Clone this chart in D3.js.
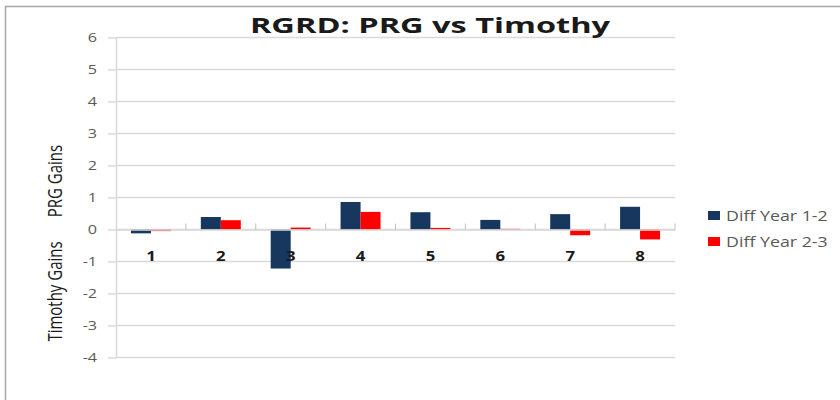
<!DOCTYPE html>
<html>
<head>
<meta charset="utf-8">
<script src="https://cdn.jsdelivr.net/npm/d3@7"></script>
<style>
  body { margin: 0; background: #fff; }
  text { font-family: "Open Sans", sans-serif; }
</style>
</head>
<body>
<div id="chart"></div>
<script>
// data
const groups = ["1", "2", "3", "4", "5", "6", "7", "8"];
const diff12 = [-0.12, 0.39, -1.22, 0.86, 0.54, 0.30, 0.48, 0.71];
const diff23 = [-0.05, 0.29, 0.06, 0.55, 0.05, 0.02, -0.18, -0.31];
const seriesNames = ["Diff Year 1-2", "Diff Year 2-3"];
const yTicks = [6, 5, 4, 3, 2, 1, 0, -1, -2, -3, -4];

const outer_w = 840;
const outer_h = 400;
const margin = { top: 37.5, right: 165, bottom: 42.5, left: 116 };
const w = outer_w - margin.left - margin.right;
const h = outer_h - margin.top - margin.bottom;

// the source picture is stretched sideways, so text gets a wider x scale
const sx = 1.3;

const svg = d3.select("#chart")
  .append("svg")
  .attr("width", outer_w)
  .attr("height", outer_h);

// outer frame (only top and left show in the crop)
svg.append("path")
  .attr("d", "M5.5,400 V6.5 H840")
  .attr("fill", "none")
  .attr("stroke", "#a6a6a6")
  .attr("stroke-width", 1.5);

const g = svg.append("g")
  .attr("transform", "translate(" + margin.left + "," + margin.top + ")");

const y = d3.scaleLinear().domain([-4, 6]).range([h, 0]);
const x = d3.scaleBand().domain(groups).range([0, w]);
const keys = ["a", "b"];
const xIn = d3.scaleBand().domain(keys).range([x.bandwidth() * 0.214, x.bandwidth() * 0.786]);
const color = d3.scaleOrdinal().domain(keys).range(["#17375e", "#ff0000"]);

// gridlines
g.append("g")
  .selectAll("line")
  .data(yTicks)
  .enter().append("line")
  .attr("x1", 0)
  .attr("x2", w)
  .attr("y1", d => y(d))
  .attr("y2", d => y(d))
  .attr("stroke", "#d9d9d9")
  .attr("stroke-width", 1.5);

// y axis (plain hyphen for negatives, like the original)
const yAxis = g.append("g")
  .call(d3.axisLeft(y).tickValues(yTicks).tickFormat(d => String(d))
    .tickSize(8).tickPadding(6).tickSizeOuter(0));
yAxis.select(".domain").attr("stroke", "#d9d9d9").attr("stroke-width", 1.5);
yAxis.selectAll(".tick line").attr("stroke", "#d9d9d9").attr("stroke-width", 1.5);
yAxis.selectAll(".tick text")
  .attr("fill", "#595959")
  .attr("transform", "scale(1.35,1)")
  .style("font-size", "12px");

// bars
const rows = groups.map((k, i) => ({ group: k, a: diff12[i], b: diff23[i] }));
g.append("g")
  .selectAll("g")
  .data(rows)
  .enter().append("g")
  .attr("transform", d => "translate(" + x(d.group) + ",0)")
  .selectAll("rect")
  .data(d => keys.map(k => ({ key: k, value: d[k] })))
  .enter().append("rect")
  .attr("x", d => xIn(d.key))
  .attr("width", xIn.bandwidth())
  .attr("y", d => y(Math.max(0, d.value)))
  .attr("height", d => Math.abs(y(d.value) - y(0)))
  .attr("fill", d => color(d.key));

// category axis on the zero line
const xAxis = g.append("g")
  .attr("transform", "translate(0," + y(0) + ")")
  .call(d3.axisBottom(x).tickSize(0).tickPadding(21.5));
xAxis.select(".domain").attr("stroke", "#d9d9d9").attr("stroke-width", 1.5);
xAxis.selectAll(".tick text")
  .attr("fill", "#1a1a1a")
  .attr("transform", "scale(1.2,1)")
  .style("font-size", "14px")
  .style("font-weight", "bold");
// small ticks between categories, pointing up
g.append("g")
  .selectAll("line")
  .data(groups)
  .enter().append("line")
  .attr("x1", d => x(d) + x.bandwidth())
  .attr("x2", d => x(d) + x.bandwidth())
  .attr("y1", y(0) - 6)
  .attr("y2", y(0))
  .attr("stroke", "#bfbfbf")
  .attr("stroke-width", 1);

// title
svg.append("text")
  .attr("transform", "translate(430,33) scale(1.55,1)")
  .attr("text-anchor", "middle")
  .attr("fill", "#1a1a1a")
  .style("font-size", "21px")
  .style("font-weight", "bold")
  .text("RGRD: PRG vs Timothy");

// axis titles
svg.append("text")
  .attr("transform", "translate(62,181) scale(" + sx + ",1) rotate(-90)")
  .attr("text-anchor", "middle")
  .attr("fill", "#1a1a1a")
  .style("font-size", "15px")
  .text("PRG Gains");
svg.append("text")
  .attr("transform", "translate(62,291.5) scale(" + sx + ",1) rotate(-90)")
  .attr("text-anchor", "middle")
  .attr("fill", "#1a1a1a")
  .style("font-size", "15px")
  .text("Timothy Gains");

// legend
const legend = svg.append("g")
  .attr("transform", "translate(708,211)")
  .selectAll("g")
  .data(keys)
  .enter().append("g")
  .attr("transform", (d, i) => "translate(0," + i * 26 + ")");
legend.append("rect")
  .attr("width", 12)
  .attr("height", 9)
  .attr("fill", d => color(d));
legend.append("text")
  .attr("transform", "translate(18,9.5) scale(1.27,1)")
  .attr("fill", "#595959")
  .style("font-size", "14px")
  .text((d, i) => seriesNames[i]);
</script>
</body>
</html>
